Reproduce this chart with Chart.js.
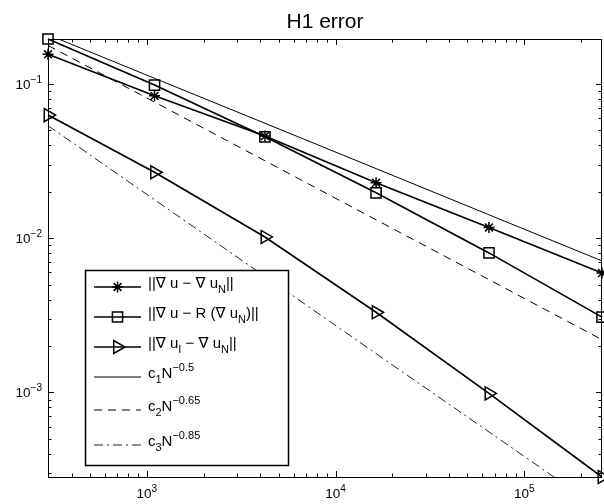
<!DOCTYPE html>
<html><head><meta charset="utf-8">
<script src="https://cdn.jsdelivr.net/npm/chart.js@4.4.0/dist/chart.umd.min.js"></script>
<style>html,body{margin:0;padding:0;background:#fff}</style>
</head><body>
<canvas id="c" width="604" height="504"></canvas>
<script>
// ---- data ----
const N = [300, 1100, 4230, 16400, 65000, 258000];
const errGrad   = [0.156, 0.0839, 0.0460, 0.0229, 0.01175, 0.00595];
const errRec    = [0.196, 0.0985, 0.0455, 0.0197, 0.00804, 0.00308];
const errInterp = [0.0629, 0.0268, 0.0102, 0.00331, 0.000986, 0.000283];
const refC1 = [0.209, 0.109, 0.0557, 0.0283, 0.0142, 0.00713];
const refC2 = [0.178, 0.0764, 0.0318, 0.01318, 0.00539, 0.00220];
const refC3 = [0.0537, 0.01778, 0.00566, 0.001786, 0.000555, 0.000172];
const seriesLabels = [
  '||\u2207 u \u2212 \u2207 u_{N}||',
  '||\u2207 u \u2212 R (\u2207 u_{N})||',
  '||\u2207 u_{I} \u2212 \u2207 u_{N}||',
  'c_{1}N^{\u22120.5}',
  'c_{2}N^{\u22120.65}',
  'c_{3}N^{\u22120.85}'
];
const xTickValues = [1e3, 1e4, 1e5];
const xTickLabels = ['10^{3}', '10^{4}', '10^{5}'];
const yTickValues = [1e-3, 1e-2, 1e-1];
const yTickLabels = ['10^{\u22123}', '10^{\u22122}', '10^{\u22121}'];
const titleText = 'H1 error';
const xRange = [300, 258000];
const yRange = [2.83e-4, 0.196];

// ---- rendering helpers ----
const FONT = '"Liberation Sans", Arial, Helvetica, "DejaVu Sans", sans-serif';
function parseRich(s) {
  const out = []; let buf = ''; let i = 0;
  while (i < s.length) {
    const c = s[i];
    if ((c === '_' || c === '^') && s[i + 1] === '{') {
      if (buf) { out.push({t: buf, k: 0}); buf = ''; }
      const j = s.indexOf('}', i);
      out.push({t: s.slice(i + 2, j), k: c === '_' ? -1 : 1});
      i = j + 1;
    } else { buf += c; i++; }
  }
  if (buf) out.push({t: buf, k: 0});
  return out;
}
function drawRich(ctx, s, x, y, align, base, small) {
  const segs = parseRich(s);
  let w = 0;
  segs.forEach(g => { ctx.font = (g.k ? small : base) + 'px ' + FONT; g.w = ctx.measureText(g.t).width; w += g.w; });
  let cx = align === 'center' ? x - w / 2 : align === 'right' ? x - w : x;
  ctx.textAlign = 'left'; ctx.textBaseline = 'alphabetic'; ctx.fillStyle = '#000';
  segs.forEach(g => {
    ctx.font = (g.k ? small : base) + 'px ' + FONT;
    const dy = g.k === 1 ? -0.45 * base : g.k === -1 ? 0.33 * base : 0;
    ctx.fillText(g.t, cx, y + dy);
    cx += g.w;
  });
}
function minorVals(min, max) {
  const v = [];
  for (let d = Math.floor(Math.log10(min)); d <= Math.ceil(Math.log10(max)); d++)
    for (let m = 1; m <= 9; m++) { const val = m * Math.pow(10, d); if (val >= min && val <= max) v.push({val, major: m === 1}); }
  return v;
}

const axesPlugin = {
  id: 'matlabAxes',
  afterDraw(chart) {
    const ctx = chart.ctx, a = chart.chartArea, xs = chart.scales.x, ys = chart.scales.y;
    ctx.save();
    ctx.strokeStyle = '#000'; ctx.lineWidth = 1; ctx.setLineDash([]);
    ctx.strokeRect(Math.round(a.left) + 0.5, Math.round(a.top) + 0.5, Math.round(a.right - a.left) - 1, Math.round(a.bottom - a.top));
    ctx.beginPath();
    minorVals(xRange[0], xRange[1]).forEach(t => {
      const px = Math.round(xs.getPixelForValue(t.val)) + 0.5, L = t.major ? 6 : 3.5;
      ctx.moveTo(px, a.bottom); ctx.lineTo(px, a.bottom - L);
      ctx.moveTo(px, a.top); ctx.lineTo(px, a.top + L);
    });
    minorVals(yRange[0], yRange[1]).forEach(t => {
      const py = Math.round(ys.getPixelForValue(t.val)) + 0.5, L = t.major ? 6 : 3.5;
      ctx.moveTo(a.left, py); ctx.lineTo(a.left + L, py);
      ctx.moveTo(a.right, py); ctx.lineTo(a.right - L, py);
    });
    ctx.stroke();
    xTickValues.forEach((v, i) => drawRich(ctx, xTickLabels[i], xs.getPixelForValue(v), a.bottom + 21, 'center', 13.5, 10));
    yTickValues.forEach((v, i) => drawRich(ctx, yTickLabels[i], a.left - 6, ys.getPixelForValue(v) + 5, 'right', 13.5, 10));
    ctx.font = '21px ' + FONT; ctx.textAlign = 'center'; ctx.fillStyle = '#000';
    ctx.fillText(titleText, (a.left + a.right) / 2, 28);

    // legend
    const box = {x: 85, y: 270, w: 203, h: 195};
    ctx.fillStyle = '#fff'; ctx.fillRect(box.x, box.y, box.w, box.h);
    ctx.lineWidth = 1.5; ctx.strokeStyle = '#000';
    ctx.strokeRect(box.x + 0.5, box.y + 0.5, box.w, box.h);
    const rowY = [287, 317, 347, 377, 410, 445];
    chart.data.datasets.forEach((ds, i) => {
      const y = rowY[i];
      ctx.save();
      ctx.strokeStyle = ds.borderColor; ctx.lineWidth = ds.borderWidth;
      ctx.setLineDash(ds.borderDash || []);
      ctx.beginPath(); ctx.moveTo(94, y); ctx.lineTo(141, y); ctx.stroke();
      ctx.setLineDash([]);
      if (ds.pointRadius > 0) {
        ctx.strokeStyle = ds.pointBorderColor; ctx.fillStyle = 'rgba(0,0,0,0)';
        ctx.lineWidth = ds.pointBorderWidth;
        Chart.helpers.drawPoint(ctx, {pointStyle: ds.pointStyle, radius: ds.pointRadius, rotation: ds.pointRotation || 0, borderWidth: ds.pointBorderWidth}, 117.5, y);
      }
      ctx.restore();
      drawRich(ctx, ds.label, 148, y + 1, 'left', 15, 11);
    });
    ctx.restore();
  }
};

function pts(ys) { return N.map((x, i) => ({x, y: ys[i]})); }
function dataSeries(label, ys, style, r, rot) {
  return {label, data: pts(ys), borderColor: '#000', borderWidth: 1.7, pointStyle: style, pointRadius: r,
    pointRotation: rot || 0, pointBorderColor: '#000', pointBackgroundColor: 'rgba(0,0,0,0)', pointBorderWidth: 1.5,
    pointHoverRadius: r, tension: 0, clip: false};
}
function refSeries(label, ys, dash, color) {
  return {label, data: pts(ys), borderColor: color, borderWidth: 1, borderDash: dash, pointRadius: 0, tension: 0, clip: 0};
}

new Chart(document.getElementById('c'), {
  type: 'line',
  data: {datasets: [
    dataSeries(seriesLabels[0], errGrad, 'star', 5.5),
    dataSeries(seriesLabels[1], errRec, 'rect', 7.2),
    dataSeries(seriesLabels[2], errInterp, 'triangle', 7.5, 90),
    refSeries(seriesLabels[3], refC1, [], '#000'),
    refSeries(seriesLabels[4], refC2, [8, 6], '#000'),
    refSeries(seriesLabels[5], refC3, [9, 4, 2, 4], '#222')
  ]},
  options: {
    responsive: false, animation: false, devicePixelRatio: 1,
    layout: {autoPadding: false, padding: {left: 48, right: 2, top: 39, bottom: 27}},
    plugins: {legend: {display: false}, tooltip: {enabled: false}, title: {display: false}},
    scales: {
      x: {type: 'logarithmic', min: xRange[0], max: xRange[1], display: false},
      y: {type: 'logarithmic', min: yRange[0], max: yRange[1], display: false}
    }
  },
  plugins: [axesPlugin]
});
</script>
</body></html>
